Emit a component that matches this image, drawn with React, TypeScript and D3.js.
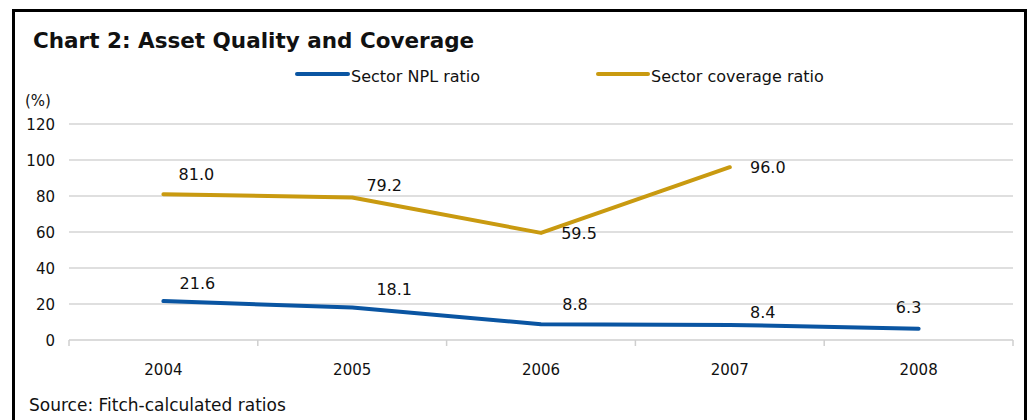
import React, { useEffect, useRef } from "react";
import * as d3 from "d3";

const years = ["2004", "2005", "2006", "2007", "2008"];
const nplRatio = [21.6, 18.1, 8.8, 8.4, 6.3];
const coverageRatio: (number | null)[] = [81.0, 79.2, 59.5, 96.0, null];
const yTicks = [0, 20, 40, 60, 80, 100, 120];

const seriesNames = ["Sector NPL ratio", "Sector coverage ratio"];
const title = "Chart 2: Asset Quality and Coverage";
const source = "Source: Fitch-calculated ratios";
const unitLabel = "(%)";

// label placement offsets (layout, px relative to the point)
const nplLabelOffsets = [[34, -12], [42, -12], [34, -14], [33, -7], [-10, -16]];
const covLabelOffsets = [[33, -14], [32, -6], [38, 6], [38, 6], [0, 0]];

const W = 1031;
const H = 420;
const FONT = "'DejaVu Sans', sans-serif";
const BLUE = "#0a55a2";
const GOLD = "#c99a10";

export default function App() {
  const ref = useRef<SVGSVGElement | null>(null);

  useEffect(() => {
    document.body.style.margin = "0";
    const svg = d3.select(ref.current);
    svg.selectAll("*").remove();

    const left = 69, right = 1013, top = 124, bottom = 340;
    const x = d3.scaleBand().domain(years).range([left, right]);
    const y = d3.scaleLinear().domain([0, 120]).range([bottom, top]);
    const cx = (d: string) => (x(d) as number) + x.bandwidth() / 2;

    svg.append("rect").attr("x", 0).attr("y", 0).attr("width", W).attr("height", H).attr("fill", "#fff");
    svg.append("rect")
      .attr("x", 13.5).attr("y", 10.5).attr("width", 1012).attr("height", 420)
      .attr("fill", "none").attr("stroke", "#000").attr("stroke-width", 3);

    svg.append("text").attr("x", 33).attr("y", 48)
      .attr("font-family", FONT).attr("font-weight", "bold").attr("font-size", 21.5)
      .attr("fill", "#111").text(title);

    // legend
    const legend = [
      { name: seriesNames[0], color: BLUE, x1: 297, x2: 348 },
      { name: seriesNames[1], color: GOLD, x1: 598, x2: 648 },
    ];
    legend.forEach((l) => {
      svg.append("line").attr("x1", l.x1).attr("x2", l.x2).attr("y1", 74).attr("y2", 74)
        .attr("stroke", l.color).attr("stroke-width", 4).attr("stroke-linecap", "round");
      svg.append("text").attr("x", l.x2 + 3).attr("y", 82)
        .attr("font-family", FONT).attr("font-size", 16).attr("fill", "#111").text(l.name);
    });

    svg.append("text").attr("x", 25).attr("y", 106)
      .attr("font-family", FONT).attr("font-size", 15).attr("fill", "#111").text(unitLabel);

    // gridlines
    const g = svg.append("g");
    g.selectAll("line.grid").data(yTicks.filter((t) => t > 0)).enter().append("line")
      .attr("x1", left).attr("x2", right)
      .attr("y1", (d) => y(d)).attr("y2", (d) => y(d))
      .attr("stroke", "#d4d4d4").attr("stroke-width", 1.5);
    g.selectAll("text.ytick").data(yTicks).enter().append("text")
      .attr("x", 55).attr("y", (d) => y(d) + 5.5).attr("text-anchor", "end")
      .attr("font-family", FONT).attr("font-size", 15).attr("fill", "#111")
      .text((d) => String(d));

    // x axis
    g.append("line").attr("x1", left).attr("x2", right).attr("y1", bottom).attr("y2", bottom)
      .attr("stroke", "#cfcfcf").attr("stroke-width", 1.5);
    const boundaries = years.map((d) => x(d) as number).concat([right]);
    g.selectAll("line.xtick").data(boundaries).enter().append("line")
      .attr("x1", (d) => d).attr("x2", (d) => d).attr("y1", bottom).attr("y2", bottom + 6)
      .attr("stroke", "#cfcfcf").attr("stroke-width", 1.5);
    g.selectAll("text.xlab").data(years).enter().append("text")
      .attr("x", (d) => cx(d)).attr("y", 375).attr("text-anchor", "middle")
      .attr("font-family", FONT).attr("font-size", 15).attr("fill", "#111").text((d) => d);

    // lines
    const lineGen = d3.line<[string, number | null]>()
      .defined((d) => d[1] !== null)
      .x((d) => cx(d[0]))
      .y((d) => y(d[1] as number));

    const covData = years.map((yr, i) => [yr, coverageRatio[i]] as [string, number | null]);
    const nplData = years.map((yr, i) => [yr, nplRatio[i]] as [string, number | null]);

    svg.append("path").attr("d", lineGen(covData) as string).attr("fill", "none")
      .attr("stroke", GOLD).attr("stroke-width", 4).attr("stroke-linecap", "round").attr("stroke-linejoin", "round");
    svg.append("path").attr("d", lineGen(nplData) as string).attr("fill", "none")
      .attr("stroke", BLUE).attr("stroke-width", 4).attr("stroke-linecap", "round").attr("stroke-linejoin", "round");

    // labels
    const addLabels = (data: [string, number | null][], offs: number[][]) => {
      data.forEach((d, i) => {
        if (d[1] === null) return;
        svg.append("text")
          .attr("x", cx(d[0]) + offs[i][0]).attr("y", y(d[1]) + offs[i][1])
          .attr("text-anchor", "middle")
          .attr("font-family", FONT).attr("font-size", 16).attr("fill", "#111")
          .text((d[1] as number).toFixed(1));
      });
    };
    addLabels(covData, covLabelOffsets);
    addLabels(nplData, nplLabelOffsets);

    svg.append("text").attr("x", 29).attr("y", 411)
      .attr("font-family", FONT).attr("font-size", 17).attr("fill", "#111").text(source);
  }, []);

  return <svg ref={ref} width={W} height={H} style={{ display: "block" }} />;
}
